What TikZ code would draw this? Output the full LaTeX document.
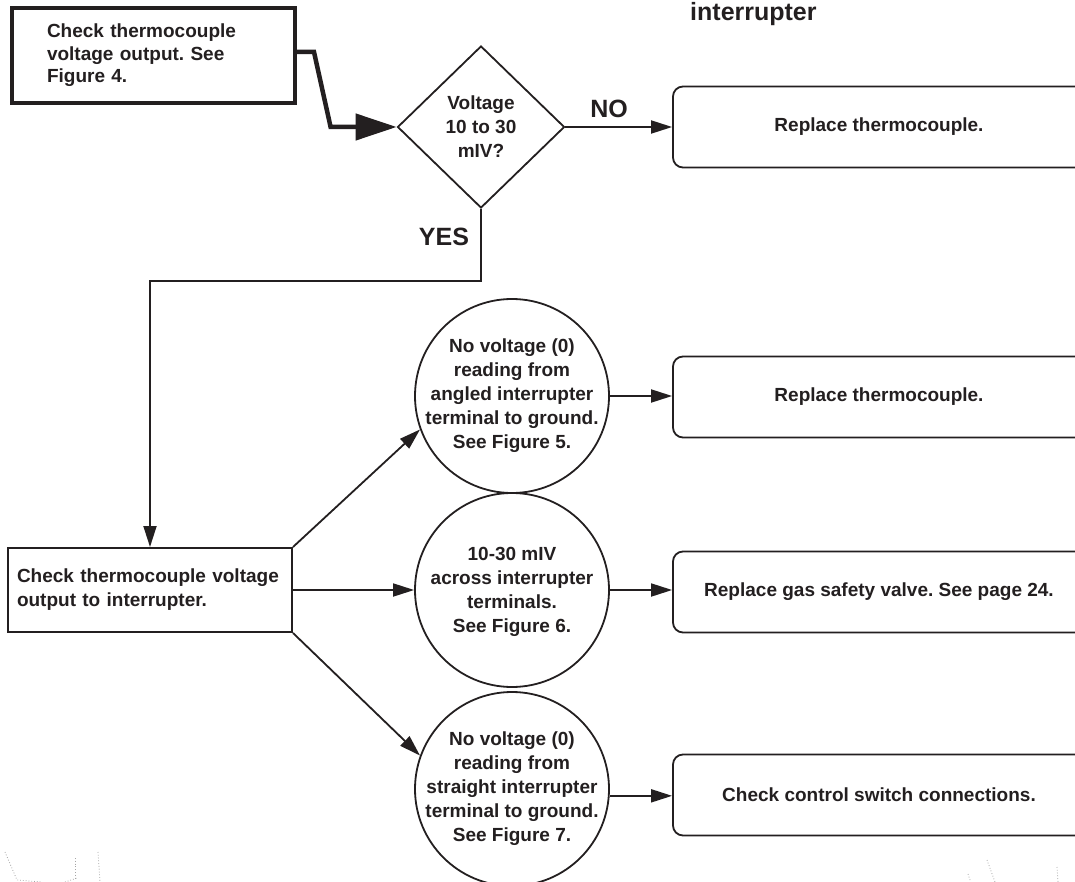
\documentclass[tikz,border=0pt]{standalone}
\usepackage{fontspec}
\setmainfont{Liberation Sans}
\usetikzlibrary{shapes.geometric,arrows.meta}
\definecolor{ink}{RGB}{35,31,32}
\frenchspacing
\begin{document}
\begin{tikzpicture}[x=1pt,y=-1pt,
  font=\bfseries\fontsize{19}{23.5}\selectfont, text=ink,
  sqbox/.style={draw=ink, line width=2pt, rectangle, inner ysep=0pt, align=left},
  rbox/.style={draw=ink, line width=1.8pt, rectangle, rounded corners=10pt, minimum width=412pt, minimum height=81pt, inner sep=0pt, align=center},
  bubble/.style={draw=ink, line width=1.8pt, circle, minimum size=194pt, inner sep=0pt},
  bubtext/.style={align=center, inner sep=0pt, font=\bfseries\fontsize{19}{24}\selectfont},
  arr/.style={draw=ink, line width=1.8pt, -{Triangle[length=21pt,width=13pt]}},
  bigarr/.style={draw=ink, line width=4.5pt, -{Triangle[length=41pt,width=26pt]}},
  lbl/.style={font=\bfseries\fontsize{25}{30}\selectfont, inner sep=0pt},
  smudge/.style={draw=black!35, dotted, line width=0.8pt}
]
\useasboundingbox (0,0) rectangle (1075,882);
\clip (0,0) rectangle (1075,882);
\fill[white] (0,0) rectangle (1075,882);

% title fragment
\node[anchor=base west, inner sep=0pt, font=\bfseries\fontsize{25}{30}\selectfont] (title) at (690,21) {interrupter};

% first step box
\node[sqbox, line width=4pt, minimum width=283pt, minimum height=95pt, inner xsep=35pt, text width=213pt,
      font=\bfseries\fontsize{19}{22.5}\selectfont] (b0) at (153.5,55.5)
  {Check thermocouple\\voltage output. See\\Figure 4.};

% decision
\node[draw=ink, line width=1.8pt, diamond, aspect=1.03, minimum width=167pt, minimum height=162pt, inner sep=0pt, align=center,
      font=\bfseries\fontsize{19}{24}\selectfont] (dec) at (481,127) {Voltage\\10 to 30\\mIV?};

% right boxes
\node[rbox] (r1) at (879,127) {Replace thermocouple.};
\node[rbox] (r2) at (879,397) {Replace thermocouple.};
\node[rbox] (r3) at (879,592) {Replace gas safety valve. See page 24.};
\node[rbox] (r4) at (879,795) {Check control switch connections.};

% second step box
\node[sqbox, minimum width=284pt, minimum height=84pt, inner xsep=9pt, text width=266pt,
      font=\bfseries\fontsize{19}{24}\selectfont] (b1) at (150,590)
  {Check thermocouple voltage\\output to interrupter.};

% bubbles
\node[bubble] (c1) at (512,396) {};
\node[bubtext] (t1) at (c1.center) {No voltage (0)\\reading from\\angled interrupter\\terminal to ground.\\See Figure 5.};
\node[bubble] (c2) at (512,590) {};
\node[bubtext] (t2) at ([yshift=-2pt]c2.center) {10-30 mIV\\across interrupter\\terminals.\\See Figure 6.};
\node[bubble] (c3) at (512,789) {};
\node[bubtext] (t3) at (c3.center) {No voltage (0)\\reading from\\straight interrupter\\terminal to ground.\\See Figure 7.};

% labels
\node[lbl] (no) at (609,109) {NO};
\node[lbl] (yes) at (444,237) {YES};

% connectors
\draw[bigarr] ([yshift=3.5pt]b0.east) -- ++(17,0) -- ([xshift=-66pt]dec.west) -- (dec.west);
\draw[arr] (dec.east) -- (r1.west);
\coordinate (yb) at (150,281);
\draw[arr] (dec.south) |- (yb) -- (yb |- b1.north);
\draw[arr] (b1.north east) -- (c1.200);
\draw[arr] (b1.east) -- (c2.west);
\draw[arr] (b1.south east) -- (c3.160);
\draw[arr] (c1.east) -- (c1.east -| r2.west);
\draw[arr] (c2.east) -- (c2.east -| r3.west);
\draw[arr] (c3.-4) -- (c3.-4 -| r4.west);

% faint scan marks
\draw[smudge] (5,852) -- (17,880) -- (42,882);
\draw[smudge] (65,882) -- (77,878);
\draw[smudge] (75,858) -- (75,880);
\draw[smudge] (98,852) -- (100,882);
\draw[smudge] (987,860) -- (995,882);
\draw[smudge] (968,874) -- (970,880);
\draw[smudge] (1057,867) -- (1058,882);
\end{tikzpicture}
\end{document}
